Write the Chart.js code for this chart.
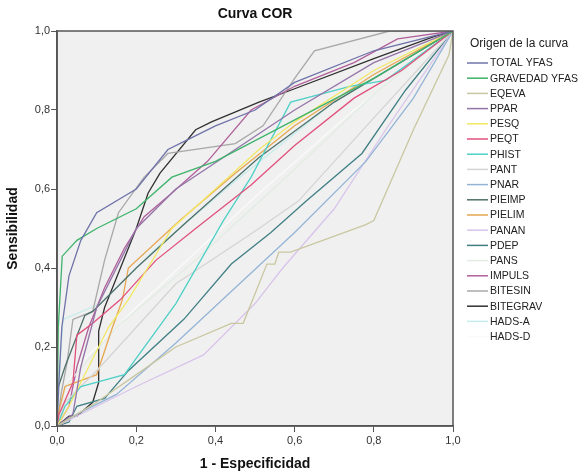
<!DOCTYPE html>
<html>
<head>
<meta charset="utf-8">
<script src="https://cdn.jsdelivr.net/npm/chart.js@4"></script>
<style>
  body { margin: 0; background: #fff; }
  #wrap { width: 584px; height: 473px; position: relative; }
</style>
</head>
<body>
<div id="wrap"><canvas id="roc"></canvas></div>
<script>
// series names, same order as the legend
const LABELS = ['TOTAL YFAS', 'GRAVEDAD YFAS', 'EQEVA', 'PPAR', 'PESQ', 'PEQT', 'PHIST', 'PANT', 'PNAR',
  'PIEIMP', 'PIELIM', 'PANAN', 'PDEP', 'PANS', 'IMPULS', 'BITESIN', 'BITEGRAV', 'HADS-A', 'HADS-D'];

const COLORS = ['#6f73a8', '#3fb36c', '#c9c7a0', '#9474a8', '#f2e866', '#e0507c', '#4fd0c6', '#d4d4d4', '#94b4d6',
  '#4f706a', '#e6a650', '#d8c4ea', '#3f7f84', '#e2ece2', '#b0609a', '#a8a8a8', '#303030', '#c6ecec', '#fafafa'];

const X_TICKS = [0, 0.2, 0.4, 0.6, 0.8, 1];

// [1 - especificidad, sensibilidad]
const TOTAL_YFAS = [[0,0],[0.005,0.12],[0.012,0.25],[0.03,0.38],[0.06,0.47],[0.1,0.54],[0.2,0.6],[0.28,0.7],[0.32,0.72],[0.4,0.76],[0.5,0.8],[0.6,0.87],[0.8,0.95],[1,1]];
const GRAVEDAD_YFAS = [[0,0],[0.003,0.25],[0.013,0.43],[0.05,0.47],[0.1,0.5],[0.2,0.55],[0.29,0.63],[0.4,0.67],[0.61,0.78],[0.8,0.88],[1,1]];
const EQEVA = [[0,0],[0.1,0.06],[0.2,0.13],[0.3,0.2],[0.44,0.26],[0.47,0.26],[0.53,0.41],[0.55,0.41],[0.56,0.44],[0.59,0.44],[0.78,0.51],[0.8,0.52],[0.9,0.75],[0.99,0.94],[1,1]];
const PPAR = [[0,0],[0.04,0.03],[0.06,0.15],[0.1,0.3],[0.16,0.42],[0.2,0.5],[0.3,0.6],[0.45,0.7],[0.6,0.8],[0.8,0.92],[1,1]];
const PESQ = [[0,0],[0.03,0.05],[0.08,0.15],[0.13,0.25],[0.18,0.32],[0.29,0.5],[0.4,0.6],[0.51,0.7],[0.6,0.77],[0.8,0.9],[1,1]];
const PEQT = [[0,0],[0.005,0.03],[0.04,0.11],[0.05,0.23],[0.09,0.26],[0.16,0.32],[0.25,0.42],[0.35,0.5],[0.49,0.61],[0.6,0.71],[0.75,0.83],[0.87,0.9],[1,1]];
const PHIST = [[0,0],[0.02,0.05],[0.06,0.1],[0.17,0.13],[0.3,0.31],[0.42,0.52],[0.49,0.63],[0.59,0.82],[0.74,0.86],[0.83,0.875],[1,1]];
const PANT = [[0,0],[0.02,0.06],[0.1,0.14],[0.3,0.36],[0.51,0.5],[0.61,0.57],[0.8,0.78],[1,1]];
const PNAR = [[0,0],[0.05,0.03],[0.15,0.08],[0.3,0.21],[0.45,0.35],[0.6,0.49],[0.78,0.67],[0.9,0.83],[1,1]];
const PIEIMP = [[0,0],[0,0.09],[0.02,0.15],[0.07,0.28],[0.09,0.29],[0.2,0.4],[0.32,0.51],[0.51,0.68],[0.7,0.82],[1,1]];
const PIELIM = [[0,0],[0.005,0.04],[0.02,0.1],[0.1,0.13],[0.14,0.25],[0.165,0.32],[0.18,0.4],[0.31,0.52],[0.45,0.64],[0.6,0.76],[0.8,0.89],[1,1]];
const PANAN = [[0,0],[0.1,0.05],[0.2,0.1],[0.37,0.18],[0.5,0.31],[0.57,0.4],[0.7,0.55],[0.83,0.75],[1,1]];
const PDEP = [[0,0],[0.03,0.01],[0.05,0.05],[0.12,0.07],[0.18,0.14],[0.32,0.27],[0.44,0.41],[0.54,0.49],[0.63,0.57],[0.77,0.69],[0.88,0.85],[1,1]];
const PANS = [[0,0],[0.02,0.1],[0.15,0.25],[0.35,0.42],[0.6,0.65],[0.8,0.84],[1,1]];
const IMPULS = [[0,0],[0.03,0.05],[0.05,0.15],[0.08,0.25],[0.12,0.35],[0.17,0.45],[0.22,0.53],[0.29,0.59],[0.38,0.67],[0.49,0.8],[0.6,0.86],[0.75,0.92],[0.86,0.98],[1,1]];
const BITESIN = [[0,0],[0.01,0.08],[0.025,0.16],[0.04,0.27],[0.09,0.29],[0.12,0.42],[0.155,0.54],[0.22,0.63],[0.28,0.69],[0.45,0.715],[0.52,0.76],[0.6,0.88],[0.65,0.95],[0.84,1],[1,1]];
const BITEGRAV = [[0,0],[0.03,0.025],[0.05,0.025],[0.09,0.06],[0.105,0.11],[0.105,0.24],[0.12,0.3],[0.2,0.5],[0.23,0.59],[0.26,0.64],[0.35,0.75],[0.39,0.77],[0.51,0.82],[0.59,0.85],[0.8,0.93],[0.95,0.985],[1,1]];
const HADS_A = [[0,0],[0.01,0.2],[0.015,0.27],[0.11,0.31],[0.25,0.45],[0.45,0.62],[0.7,0.82],[1,1]];
const HADS_D = [[0,0],[0.01,0.08],[0.05,0.15],[0.2,0.3],[0.5,0.58],[0.75,0.8],[1,1]];

const SERIES = [TOTAL_YFAS, GRAVEDAD_YFAS, EQEVA, PPAR, PESQ, PEQT, PHIST, PANT, PNAR,
  PIEIMP, PIELIM, PANAN, PDEP, PANS, IMPULS, BITESIN, BITEGRAV, HADS_A, HADS_D];

const FONT = "'Liberation Sans', Arial, sans-serif";
const comma = v => v.toFixed(1).replace('.', ',');

// plot background, frame, title and the legend on the right
const sppsLook = {
  id: 'sppsLook',
  beforeDraw(chart) {
    const { ctx, chartArea: a } = chart;
    ctx.save();
    ctx.fillStyle = '#f0f0f0';
    ctx.fillRect(a.left, a.top, a.right - a.left, a.bottom - a.top);
    ctx.restore();
  },
  afterDraw(chart) {
    const { ctx, chartArea: a } = chart;
    ctx.save();
    ctx.strokeStyle = '#555';
    ctx.lineWidth = 1.5;
    ctx.strokeRect(a.left, a.top, a.right - a.left, a.bottom - a.top);

    ctx.fillStyle = '#111';
    ctx.font = 'bold 14px ' + FONT;
    ctx.textAlign = 'center';
    ctx.textBaseline = 'middle';
    ctx.fillText('Curva COR', (a.left + a.right) / 2, 14);

    ctx.textAlign = 'left';
    ctx.font = '12px ' + FONT;
    ctx.fillStyle = '#222';
    ctx.fillText('Origen de la curva', 470, 44);
    ctx.font = '10.5px ' + FONT;
    chart.data.datasets.forEach((ds, i) => {
      const y = 63 + i * 15.2;
      ctx.strokeStyle = ds.borderColor;
      ctx.lineWidth = 1.5;
      ctx.beginPath();
      ctx.moveTo(467, y);
      ctx.lineTo(488, y);
      ctx.stroke();
      ctx.fillStyle = '#222';
      ctx.fillText(ds.label, 490, y + 0.5);
    });
    ctx.restore();
  }
};

new Chart(document.getElementById('roc'), {
  type: 'line',
  data: {
    datasets: SERIES.map((pts, i) => ({
      label: LABELS[i],
      data: pts.map(p => ({ x: p[0], y: p[1] })),
      borderColor: COLORS[i],
      borderWidth: 1.3,
      pointRadius: 0,
      tension: 0,
      fill: false
    }))
  },
  options: {
    responsive: true,
    maintainAspectRatio: false,
    animation: false,
    layout: { padding: { left: 5, right: 131, top: 31, bottom: 0 } },
    plugins: { legend: { display: false }, tooltip: { enabled: false } },
    scales: {
      x: {
        type: 'linear', min: 0, max: 1,
        afterBuildTicks: s => { s.ticks = X_TICKS.map(v => ({ value: v })); },
        ticks: { callback: v => comma(v), color: '#333', font: { family: FONT, size: 11 }, padding: 2, maxRotation: 0 },
        grid: { drawOnChartArea: false, drawTicks: true, tickLength: 6, color: '#555' },
        border: { color: '#555', width: 1.5 },
        title: { display: true, text: '1 - Especificidad', color: '#111', font: { family: FONT, size: 14, weight: 'bold' }, padding: { top: 7, bottom: 0 } }
      },
      y: {
        type: 'linear', min: 0, max: 1,
        afterBuildTicks: s => { s.ticks = X_TICKS.map(v => ({ value: v })); },
        ticks: { callback: v => comma(v), color: '#333', font: { family: FONT, size: 11 }, padding: 1 },
        grid: { drawOnChartArea: false, drawTicks: true, tickLength: 6, color: '#555' },
        border: { color: '#555', width: 1.5 },
        title: { display: true, text: 'Sensibilidad', color: '#111', font: { family: FONT, size: 14, weight: 'bold' }, padding: { top: 0, bottom: 12 } }
      }
    }
  },
  plugins: [sppsLook]
});
</script>
</body>
</html>
